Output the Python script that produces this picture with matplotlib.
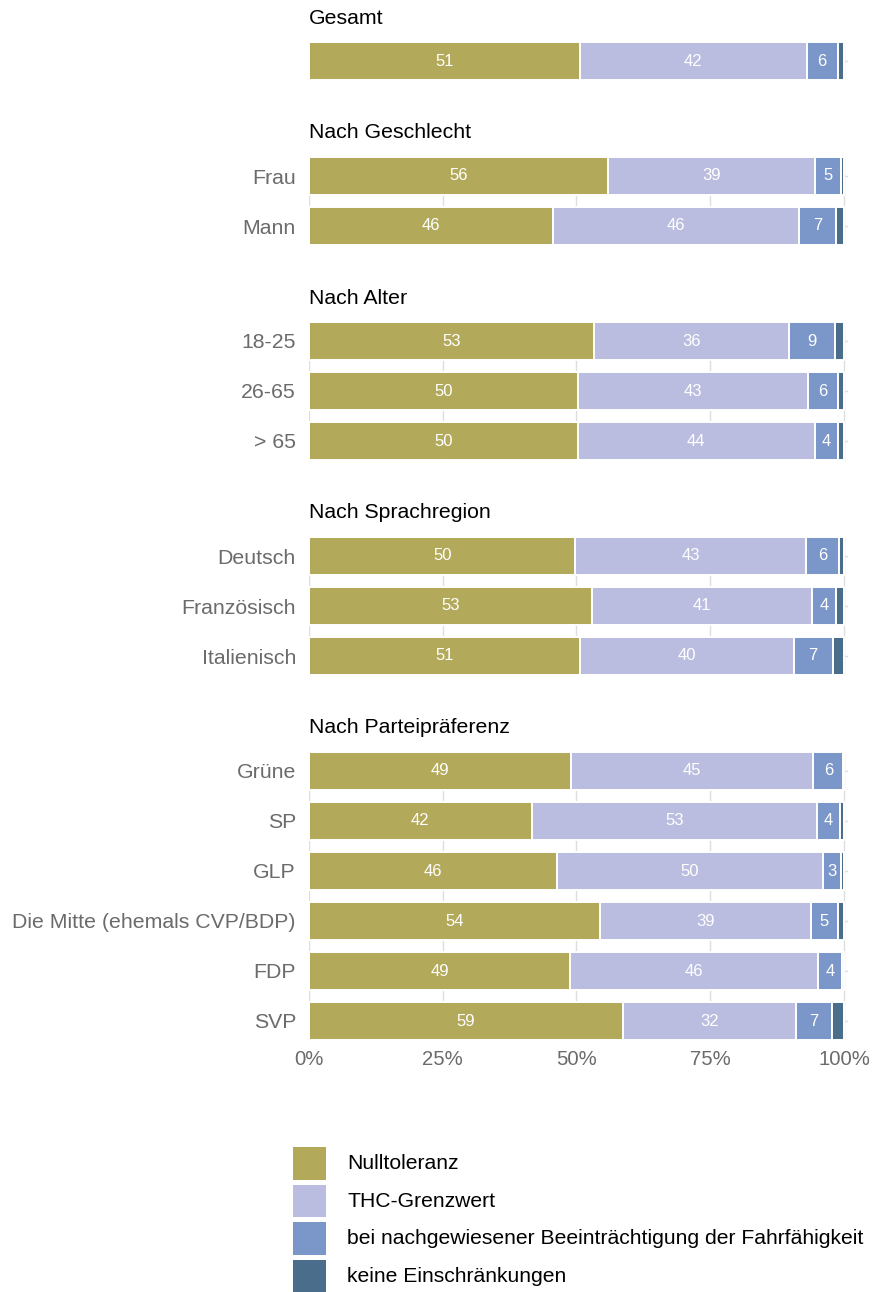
import matplotlib
matplotlib.use("Agg")
import matplotlib.pyplot as plt
from matplotlib.patches import Rectangle

plt.rcParams['font.family'] = ['Liberation Sans', 'DejaVu Sans']

# ---------------- data ----------------
panel_titles = ["Gesamt", "Nach Geschlecht", "Nach Alter", "Nach Sprachregion", "Nach Parteipräferenz"]
panel_sizes = [1, 2, 3, 3, 6]
row_labels = ["", "Frau", "Mann", "18-25", "26-65", "> 65",
              "Deutsch", "Französisch", "Italienisch",
              "Grüne", "SP", "GLP", "Die Mitte (ehemals CVP/BDP)", "FDP", "SVP"]

series_names = ["Nulltoleranz", "THC-Grenzwert",
                "bei nachgewiesener Beeinträchtigung der Fahrfähigkeit",
                "keine Einschränkungen"]
nulltoleranz = [50.6, 55.9, 45.6, 53.3, 50.3, 50.2, 49.8, 52.9, 50.7, 48.9, 41.6, 46.3, 54.4, 48.8, 58.6]
thc_grenzwert = [42.4, 38.7, 46.0, 36.4, 43.0, 44.3, 43.1, 41.2, 39.9, 45.4, 53.4, 49.8, 39.4, 46.4, 32.4]
beeintraechtigung = [5.8, 4.9, 6.9, 8.6, 5.6, 4.3, 6.1, 4.4, 7.3, 5.6, 4.3, 3.4, 5.0, 4.4, 6.7]
keine = [1.2, 0.5, 1.5, 1.7, 1.1, 1.2, 1.0, 1.5, 2.1, 0.1, 0.7, 0.5, 1.2, 0.4, 2.3]
series = [nulltoleranz, thc_grenzwert, beeintraechtigung, keine]
colors = ["#b3a95a", "#babde0", "#7b96c8", "#4a6d8c"]

x_ticks = [0, 25, 50, 75, 100]
x_ticklabels = ["0%", "25%", "50%", "75%", "100%"]

# ---------------- layout (pixels) ----------------
W, H = 880, 1292
fig = plt.figure(figsize=(W / 100, H / 100), dpi=100)

first_centers = [61, 176, 341, 556, 771]
pitch = 50
half_rows = 0.39
x_left, x_right = 309, 848
grey = "#6b6b6b"

start = 0
for p, (title, n, c0) in enumerate(zip(panel_titles, panel_sizes, first_centers)):
    top = c0 - half_rows * pitch
    bottom = c0 + (n - 1) * pitch + half_rows * pitch
    ax = fig.add_axes([x_left / W, 1 - bottom / H, (x_right - x_left) / W, (bottom - top) / H])
    idx = list(range(start, start + n))
    ys = list(range(n))
    lefts = [0.0] * n
    for s, col in zip(series, colors):
        vals = [s[i] for i in idx]
        ax.barh(ys, vals, left=lefts, height=0.755, color=col,
                edgecolor="white", linewidth=1.4, zorder=2)
        for y, l, v in zip(ys, lefts, vals):
            if v >= 2.5:
                ax.text(l + v / 2, y, str(int(v + 0.5)), ha="center", va="center",
                        color="white", fontsize=12, zorder=3)
        lefts = [l + v for l, v in zip(lefts, vals)]

    ax.set_xlim(0, 100.75)
    ax.set_ylim(n - 1 + half_rows, -half_rows)
    ax.set_xticks(x_ticks)
    ax.set_yticks(ys)
    ax.set_yticklabels([row_labels[i] for i in idx], fontsize=15.3, color=grey)
    ax.set_axisbelow(True)
    ax.grid(True, color="#dedede", linewidth=1.0, zorder=0)
    for sp in ax.spines.values():
        sp.set_visible(False)
    ax.tick_params(axis="both", length=0)
    ax.tick_params(axis="y", pad=9.4)
    if p == len(panel_titles) - 1:
        ax.set_xticklabels(x_ticklabels, fontsize=14.6, color=grey)
        ax.tick_params(axis="x", pad=6.5)
    else:
        ax.set_xticklabels([])
    fig.text(x_left / W, 1 - (c0 - 43) / H, title, ha="left", va="center",
             fontsize=15.3, color="black")
    start += n

# ---------------- legend ----------------
lax = fig.add_axes([0, 0, 1, 1])
lax.set_xlim(0, W)
lax.set_ylim(H, 0)
lax.axis("off")
lax.patch.set_alpha(0)
for k, (name, col) in enumerate(zip(series_names, colors)):
    ytop = 1147 + k * 37.7
    lax.add_patch(Rectangle((293, ytop), 33, 32.5, facecolor=col, edgecolor="none"))
    lax.text(347, ytop + 16.5, name, ha="left", va="center", fontsize=15.2, color="black")

fig.savefig("out.png", dpi=100)
